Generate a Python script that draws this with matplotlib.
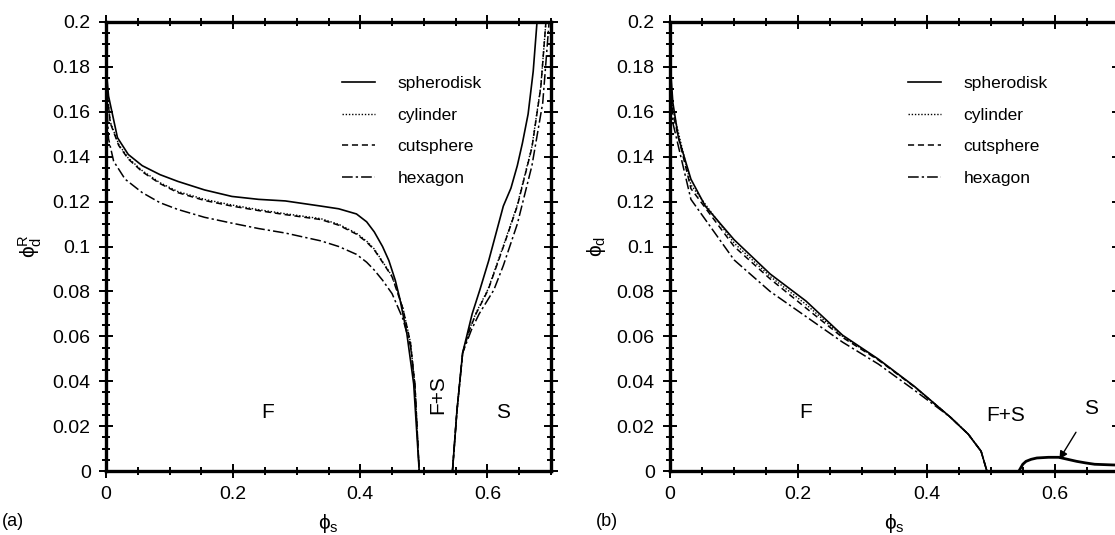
import matplotlib.pyplot as plt
from matplotlib.ticker import MultipleLocator, FuncFormatter

# ---------------- data ----------------
# panel (a): phi_d^R vs phi_s, fluid branch (left) and solid branch (right)
a_sph_fx = [0.0005, 0.004, 0.018, 0.035, 0.057, 0.085, 0.113, 0.155, 0.198, 0.24, 0.282, 0.338, 0.366, 0.394,
            0.41, 0.422, 0.435, 0.445, 0.455, 0.462, 0.473, 0.484, 0.4927]
a_sph_fy = [0.178, 0.167, 0.1485, 0.141, 0.136, 0.132, 0.129, 0.1252, 0.1223, 0.121, 0.1203, 0.118, 0.1168, 0.1145,
            0.111, 0.1065, 0.100, 0.0937, 0.085, 0.077, 0.0617, 0.0388, 0.0]
a_cut_fx = [0.0005, 0.0067, 0.02, 0.035, 0.057, 0.085, 0.113, 0.155, 0.198, 0.24, 0.282, 0.338, 0.366, 0.394,
            0.41, 0.422, 0.435, 0.45, 0.467, 0.479, 0.486, 0.4927]
a_cut_fy = [0.172, 0.155, 0.145, 0.139, 0.1333, 0.128, 0.124, 0.1205, 0.118, 0.116, 0.1142, 0.112, 0.1095, 0.1055,
            0.102, 0.0985, 0.093, 0.0865, 0.0724, 0.057, 0.038, 0.0]
a_cyl_fx = a_cut_fx
a_cyl_fy = [0.172, 0.1555, 0.1455, 0.1394, 0.1338, 0.1284, 0.1245, 0.121, 0.1185, 0.1164, 0.1146, 0.1124, 0.1099, 0.1059,
            0.1024, 0.0989, 0.0933, 0.0868, 0.0727, 0.0572, 0.038, 0.0]
a_hex_fx = [0.0005, 0.004, 0.012, 0.03, 0.057, 0.085, 0.113, 0.155, 0.198, 0.24, 0.282, 0.338, 0.366, 0.394,
            0.41, 0.422, 0.435, 0.45, 0.467, 0.479, 0.486, 0.4927]
a_hex_fy = [0.168, 0.148, 0.138, 0.130, 0.124, 0.1195, 0.1165, 0.113, 0.1104, 0.108, 0.106, 0.1025, 0.100, 0.0965,
            0.093, 0.0895, 0.085, 0.079, 0.0678, 0.0556, 0.038, 0.0]

a_sph_sx = [0.545, 0.552, 0.561, 0.576, 0.588, 0.602, 0.625, 0.637, 0.647, 0.655, 0.664, 0.672, 0.678]
a_sph_sy = [0.0, 0.0267, 0.0526, 0.070, 0.0806, 0.0937, 0.118, 0.126, 0.136, 0.146, 0.159, 0.178, 0.2]
a_cut_sx = [0.545, 0.552, 0.561, 0.572, 0.582, 0.601, 0.625, 0.647, 0.67, 0.684, 0.692]
a_cut_sy = [0.0, 0.0267, 0.0526, 0.063, 0.070, 0.0806, 0.0998, 0.118, 0.144, 0.171, 0.2]
a_cyl_sx = a_cut_sx
a_cyl_sy = [0.0, 0.0267, 0.0526, 0.0633, 0.0704, 0.081, 0.1003, 0.1185, 0.1445, 0.1715, 0.2]
a_hex_sx = [0.545, 0.552, 0.561, 0.575, 0.587, 0.61, 0.625, 0.647, 0.67, 0.687, 0.697]
a_hex_sy = [0.0, 0.0267, 0.0526, 0.063, 0.070, 0.0806, 0.0915, 0.110, 0.136, 0.164, 0.2]

# panel (b): phi_d vs phi_s
b_sph_fx = [0.0005, 0.0045, 0.013, 0.0326, 0.055, 0.1, 0.156, 0.212, 0.269, 0.325, 0.381, 0.437, 0.465, 0.485, 0.494]
b_sph_fy = [0.18, 0.164, 0.1486, 0.130, 0.118, 0.103, 0.0878, 0.0757, 0.0605, 0.0498, 0.0377, 0.024, 0.0164, 0.0088, 0.0]
b_cut_fx = [0.0005, 0.0045, 0.0326, 0.1, 0.156, 0.212, 0.269, 0.325, 0.381, 0.437, 0.465, 0.485, 0.494]
b_cut_fy = [0.175, 0.159, 0.1258, 0.100, 0.0856, 0.0726, 0.0595, 0.0494, 0.0375, 0.024, 0.0164, 0.0088, 0.0]
b_cyl_fx = b_cut_fx
b_cyl_fy = [0.176, 0.161, 0.1275, 0.1015, 0.0867, 0.0742, 0.0600, 0.0496, 0.0376, 0.024, 0.0164, 0.0088, 0.0]
b_hex_fx = [0.0005, 0.0045, 0.0326, 0.1, 0.156, 0.212, 0.269, 0.325, 0.381, 0.437, 0.465, 0.485, 0.494]
b_hex_fy = [0.172, 0.155, 0.121, 0.094, 0.080, 0.0688, 0.0574, 0.0476, 0.036, 0.024, 0.0164, 0.0088, 0.0]

b_sol_x = [0.544, 0.55, 0.555, 0.563, 0.572, 0.59, 0.606, 0.62, 0.634, 0.648, 0.662, 0.69, 0.72]
b_sol_y = [0.0, 0.003, 0.0043, 0.0052, 0.0058, 0.0061, 0.0061, 0.0052, 0.0043, 0.0036, 0.003, 0.0027, 0.0025]

labels = ["spherodisk", "cylinder", "cutsphere", "hexagon"]

# ---------------- style ----------------
plt.rcParams.update({
    "font.family": ["Liberation Sans", "DejaVu Sans"],
    "font.size": 13,
    "mathtext.fontset": "custom",
    "mathtext.rm": "Liberation Sans",
    "mathtext.it": "Liberation Sans",
})

styles = {
    "spherodisk": dict(ls="-", lw=1.2),
    "cylinder": dict(ls=(0, (1, 1.3)), lw=1.0),
    "cutsphere": dict(ls=(0, (4, 2.5)), lw=1.1),
    "hexagon": dict(ls=(0, (7, 2, 1.5, 2)), lw=1.1),
}

W, H = 1115, 535
fig = plt.figure(figsize=(W / 100, H / 100), dpi=100)


def px_axes(x0, x1, y_top, y_bot):
    return fig.add_axes([x0 / W, (H - y_bot) / H, (x1 - x0) / W, (y_bot - y_top) / H])


def style_axis(ax):
    ax.set_xlim(0, 0.7)
    ax.set_ylim(0, 0.2)
    ax.xaxis.set_major_locator(MultipleLocator(0.2))
    ax.xaxis.set_minor_locator(MultipleLocator(0.05))
    ax.yaxis.set_major_locator(MultipleLocator(0.02))
    ax.yaxis.set_minor_locator(MultipleLocator(0.005))
    fmt = FuncFormatter(lambda v, p: "%g" % round(v, 4))
    ax.xaxis.set_major_formatter(fmt)
    ax.yaxis.set_major_formatter(fmt)
    ax.tick_params(which="both", direction="inout", top=True, right=True,
                   labelsize=14, width=1.4)
    ax.tick_params(which="major", length=10, pad=6)
    ax.tick_params(which="minor", length=6)
    for s in ax.spines.values():
        s.set_linewidth(2.4)
    ax.set_xlabel("ϕ$_{\\rm s}$", fontsize=15, labelpad=6)


def add_legend(ax):
    ax.legend(frameon=False, loc="upper left", bbox_to_anchor=(0.53, 0.88),
              borderpad=0, borderaxespad=0, handlelength=1.9, handletextpad=1.3,
              labelspacing=0.95, fontsize=12.5)


ax1 = px_axes(106, 551, 22, 471)
ax2 = px_axes(670, 1119, 22, 471)

# ---- panel (a)
series_a = {
    "spherodisk": [(a_sph_fx, a_sph_fy), (a_sph_sx, a_sph_sy)],
    "cylinder": [(a_cyl_fx, a_cyl_fy), (a_cyl_sx, a_cyl_sy)],
    "cutsphere": [(a_cut_fx, a_cut_fy), (a_cut_sx, a_cut_sy)],
    "hexagon": [(a_hex_fx, a_hex_fy), (a_hex_sx, a_hex_sy)],
}
for name in labels:
    for i, (xs, ys) in enumerate(series_a[name]):
        ax1.plot(xs, ys, color="black", label=name if i == 0 else None, **styles[name])

style_axis(ax1)
ax1.set_ylabel("ϕ$_{\\rm d}^{\\rm R}$", fontsize=15, labelpad=6)
ax1.text(0.254, 0.026, "F", fontsize=15, ha="center", va="center")
ax1.text(0.522, 0.034, "F+S", fontsize=15, ha="center", va="center", rotation=90)
ax1.text(0.625, 0.026, "S", fontsize=15, ha="center", va="center")
add_legend(ax1)

# ---- panel (b)
series_b = {
    "spherodisk": [(b_sph_fx, b_sph_fy), (b_sol_x, b_sol_y)],
    "cylinder": [(b_cyl_fx, b_cyl_fy)],
    "cutsphere": [(b_cut_fx, b_cut_fy)],
    "hexagon": [(b_hex_fx, b_hex_fy)],
}
for name in labels:
    for i, (xs, ys) in enumerate(series_b[name]):
        kw = dict(styles[name])
        if i == 1:
            kw["lw"] = 2.0
        ax2.plot(xs, ys, color="black", label=name if i == 0 else None, **kw)

style_axis(ax2)
ax2.set_ylabel("ϕ$_{\\rm d}$", fontsize=15, labelpad=6)
ax2.text(0.212, 0.026, "F", fontsize=15, ha="center", va="center")
ax2.text(0.524, 0.0248, "F+S", fontsize=15, ha="center", va="center")
ax2.annotate("S", xy=(0.607, 0.0052), xytext=(0.656, 0.028),
             fontsize=15, ha="center", va="center",
             arrowprops=dict(arrowstyle="-|>", color="black", lw=1.0,
                             shrinkA=10, shrinkB=0, mutation_scale=12))
add_legend(ax2)

fig.text(2 / W, 1 - 522 / H, "(a)", fontsize=13, va="center")
fig.text(596 / W, 1 - 522 / H, "(b)", fontsize=13, va="center")

fig.savefig("out.png", dpi=100)
